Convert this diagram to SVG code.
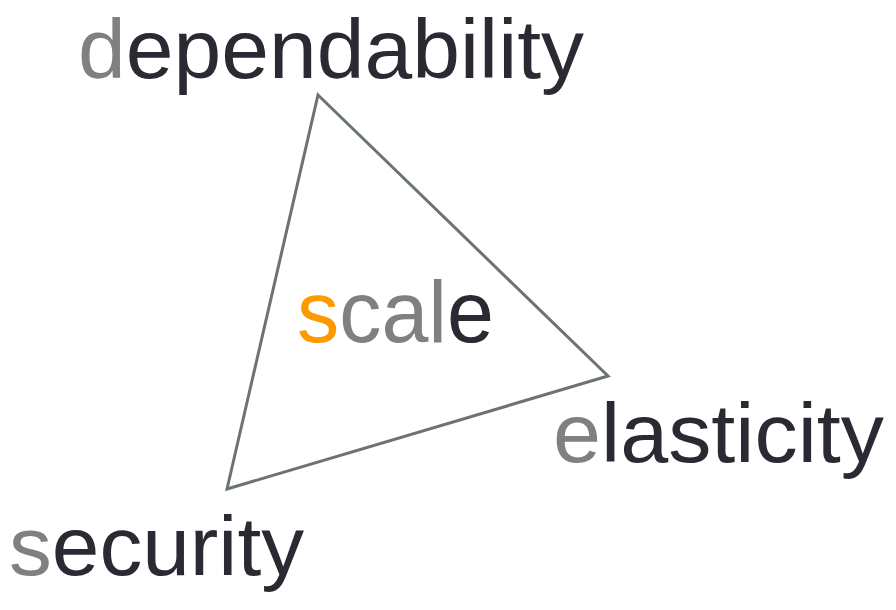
<svg xmlns="http://www.w3.org/2000/svg" width="896" height="610" viewBox="0 0 896 610">
<style>
text{font-family:"Liberation Sans",Arial,sans-serif;fill:#2a2a33}
.g{fill:#808080}
.o{fill:#ff9900}
.tri{fill:none;stroke:#6b756e;stroke-width:3;stroke-linejoin:miter}
</style>
<rect width="896" height="610" fill="#ffffff"/>
<g id="connectors">
<polygon class="tri" points="318,95 608,376 227,489"/>
</g>
<g id="dependability">
<text x="78" y="78" font-size="83" textLength="506" lengthAdjust="spacingAndGlyphs"><tspan class="g">d</tspan>ependability</text>
</g>
<g id="scale">
<text x="297" y="342" font-size="88" textLength="197" lengthAdjust="spacingAndGlyphs"><tspan class="o">s</tspan><tspan class="g">cal</tspan>e</text>
</g>
<g id="elasticity">
<text x="553" y="462" font-size="83" textLength="331" lengthAdjust="spacingAndGlyphs"><tspan class="g">e</tspan>lasticity</text>
</g>
<g id="security">
<text x="9" y="575" font-size="84" textLength="295" lengthAdjust="spacingAndGlyphs"><tspan class="g">s</tspan>ecurity</text>
</g>
</svg>
